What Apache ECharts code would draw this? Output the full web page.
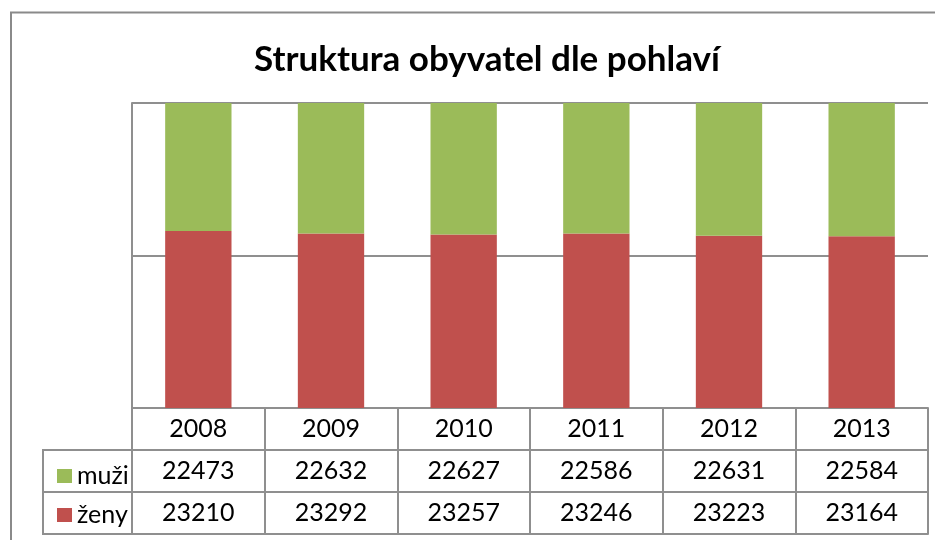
<!DOCTYPE html>
<html>
<head>
<meta charset="utf-8">
<script src="https://cdn.jsdelivr.net/npm/echarts@6/dist/echarts.min.js"></script>
<style>html,body{margin:0;padding:0;background:#fff}#c{width:935px;height:540px}</style>
</head>
<body>
<div id="c"></div>
<script>
var years = ['2008', '2009', '2010', '2011', '2012', '2013'];
var muzi = [22473, 22632, 22627, 22586, 22631, 22584];
var zeny = [23210, 23292, 23257, 23246, 23223, 23164];
var yTicks = [45, 50, 55];

var zenyPct = zeny.map(function (v, i) { return v / (v + muzi[i]) * 100; });
var muziPct = muzi.map(function (v, i) { return v / (v + zeny[i]) * 100; });

var FONT = 'Lato';
var LINE = '#8f8f8f';
var GREEN = '#9BBB59';
var RED = '#C0504D';

function tableAxis(offset, fmt, showLabel) {
  return {
    type: 'category',
    data: years,
    position: 'bottom',
    offset: offset,
    axisLine: { show: true, lineStyle: { color: LINE, width: 2 } },
    axisTick: { show: true, interval: 0, length: 42, inside: false, lineStyle: { color: LINE, width: 2 } },
    axisLabel: {
      show: showLabel,
      interval: 0,
      margin: 21,
      verticalAlign: 'middle',
      fontFamily: FONT,
      fontSize: 25,
      color: '#000',
      formatter: fmt
    },
    splitLine: { show: false }
  };
}

var chart = echarts.init(document.getElementById('c'), null, { renderer: 'canvas' });
chart.setOption({
  animation: false,
  backgroundColor: '#fff',
  title: {
    text: 'Struktura obyvatel dle pohlaví',
    left: 249,
    top: 37,
    textStyle: { fontFamily: FONT, fontWeight: 'bold', fontSize: 35, color: '#000' }
  },
  legend: [
    {
      data: ['muži'], left: 52, top: 458, orient: 'vertical', selectedMode: false,
      icon: 'rect', itemWidth: 15, itemHeight: 14, itemGap: 0,
      textStyle: { fontFamily: FONT, fontSize: 25, color: '#000', lineHeight: 26 }
    },
    {
      data: ['ženy'], left: 52, top: 497, orient: 'vertical', selectedMode: false,
      icon: 'rect', itemWidth: 15, itemHeight: 14, itemGap: 0,
      textStyle: { fontFamily: FONT, fontSize: 25, color: '#000', lineHeight: 26 }
    }
  ],
  grid: { left: 132, right: 7, top: 103, bottom: 132, containLabel: false },
  xAxis: [
    tableAxis(0, function (v) { return v; }, true),
    tableAxis(42, function (v, i) { return String(muzi[i]); }, true),
    tableAxis(84, function (v, i) { return String(zeny[i]); }, true),
    {
      type: 'category', data: years, position: 'bottom', offset: 126,
      axisLine: { show: true, lineStyle: { color: LINE, width: 2 } },
      axisTick: { show: false }, axisLabel: { show: false }
    }
  ],
  yAxis: {
    type: 'value',
    min: yTicks[0],
    max: yTicks[yTicks.length - 1],
    interval: yTicks[1] - yTicks[0],
    axisLine: { show: true, lineStyle: { color: LINE, width: 2 } },
    axisTick: { show: false },
    axisLabel: { show: false },
    splitLine: { show: true, lineStyle: { color: LINE, width: 2 } }
  },
  series: [
    {
      name: 'ženy', type: 'bar', stack: 's', data: zenyPct, barWidth: '50%',
      itemStyle: { color: RED }, clip: true, z: 1
    },
    {
      name: 'muži', type: 'bar', stack: 's', data: muziPct, barWidth: '50%',
      itemStyle: { color: GREEN }, clip: true, z: 1
    }
  ],
  graphic: [
    { type: 'polyline', shape: { points: [[11, 540], [11, 12.5], [935, 12.5]] }, style: { stroke: '#8a8a8a', lineWidth: 2, fill: null } },
    { type: 'line', shape: { x1: 43, y1: 450, x2: 132, y2: 450 }, style: { stroke: LINE, lineWidth: 2 } },
    { type: 'line', shape: { x1: 43, y1: 492, x2: 132, y2: 492 }, style: { stroke: LINE, lineWidth: 2 } },
    { type: 'line', shape: { x1: 43, y1: 534, x2: 132, y2: 534 }, style: { stroke: LINE, lineWidth: 2 } },
    { type: 'line', shape: { x1: 43, y1: 449, x2: 43, y2: 535 }, style: { stroke: LINE, lineWidth: 2 } }
  ]
});
</script>
</body>
</html>
